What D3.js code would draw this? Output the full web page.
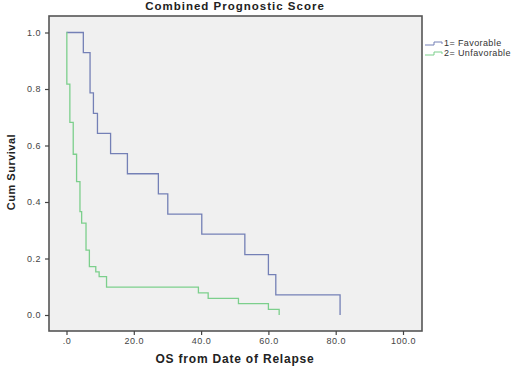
<!DOCTYPE html>
<html>
<head>
<meta charset="utf-8">
<script src="https://cdn.jsdelivr.net/npm/d3@7"></script>
<style>
  body { margin: 0; background: #fff; }
  svg { font-family: "Liberation Sans", Arial, sans-serif; }
</style>
</head>
<body>
<svg width="520" height="366"></svg>
<script>
// Kaplan-Meier steps: [time, survival after the event]
const favorable = [
  [0, 1.0], [5.0, 0.929], [7.0, 0.786], [8.0, 0.714], [9.2, 0.643],
  [13.1, 0.571], [18.1, 0.5], [27.3, 0.429], [30.1, 0.357], [40.2, 0.286],
  [53.0, 0.214], [60.0, 0.143], [62.2, 0.071], [81.3, 0.0]
];
const unfavorable = [
  [0, 1.0], [0.1, 0.817], [1.0, 0.682], [2.0, 0.569], [3.0, 0.472],
  [4.0, 0.366], [4.5, 0.325], [5.8, 0.23], [6.8, 0.171], [8.7, 0.153],
  [9.7, 0.136], [11.9, 0.099], [39.2, 0.078], [42.1, 0.059], [51.1, 0.04],
  [60.0, 0.02], [63.2, 0.0]
];
const seriesNames = ["1= Favorable", "2= Unfavorable"];
const seriesColors = ["#7480b6", "#7ccf8c"];
const xTicks = [0, 20, 40, 60, 80, 100];
const yTicks = [0, 0.2, 0.4, 0.6, 0.8, 1.0];

const svg = d3.select("svg");
const frame = { left: 49, right: 422, top: 16, bottom: 331 };

const x = d3.scaleLinear().domain([0, 100]).range([66.5, 403]);
const y = d3.scaleLinear().domain([0, 1]).range([315, 32.5]);

// plot background + frame
svg.append("rect")
   .attr("x", frame.left).attr("y", frame.top)
   .attr("width", frame.right - frame.left)
   .attr("height", frame.bottom - frame.top)
   .attr("fill", "#f0f0f0")
   .attr("stroke", "#555")
   .attr("stroke-width", 1.6);

// axes
const xAxis = svg.append("g")
   .attr("transform", `translate(0,${frame.bottom})`)
   .call(d3.axisBottom(x).tickValues(xTicks).tickSize(4).tickPadding(3)
          .tickFormat(d => d === 0 ? ".0" : d3.format(".1f")(d)));
const yAxis = svg.append("g")
   .attr("transform", `translate(${frame.left},0)`)
   .call(d3.axisLeft(y).tickValues(yTicks).tickSize(4).tickPadding(4)
          .tickFormat(d3.format(".1f")));
[xAxis, yAxis].forEach(g => {
  g.select(".domain").remove();
  g.selectAll(".tick line").attr("stroke", "#444").attr("stroke-width", 1.2);
  g.selectAll(".tick text").attr("fill", "#444")
   .style("font-size", "9px").style("letter-spacing", "0.5px")
   .style("font-family", "Liberation Sans, Arial, sans-serif");
});

// survival curves
const line = d3.line().x(d => x(d[0])).y(d => y(d[1])).curve(d3.curveStepAfter);
[favorable, unfavorable].forEach((s, i) => {
  svg.append("path")
     .datum(s)
     .attr("d", line)
     .attr("fill", "none")
     .attr("stroke", seriesColors[i])
     .attr("stroke-width", 1.3);
});

// legend
const legend = svg.append("g").attr("transform", "translate(425,43)");
seriesNames.forEach((name, i) => {
  const g = legend.append("g").attr("transform", `translate(0,${i * 10})`);
  g.append("path")
   .attr("d", "M0,2 H9 V-1 H17 V1")
   .attr("fill", "none")
   .attr("stroke", seriesColors[i])
   .attr("stroke-width", 1);
  g.append("text")
   .attr("x", 19).attr("y", 3)
   .style("font-size", "9px").style("letter-spacing", "0.4px")
   .attr("fill", "#333")
   .text(name);
});

// titles
svg.append("text")
   .attr("x", 235).attr("y", 10)
   .attr("text-anchor", "middle")
   .style("font-size", "11.5px").style("font-weight", "bold")
   .style("letter-spacing", "1px")
   .attr("fill", "#222")
   .text("Combined Prognostic Score");

svg.append("text")
   .attr("x", 235).attr("y", 363)
   .attr("text-anchor", "middle")
   .style("font-size", "12px").style("font-weight", "bold")
   .style("letter-spacing", "0.8px")
   .attr("fill", "#222")
   .text("OS from Date of Relapse");

svg.append("text")
   .attr("transform", "translate(15,172) rotate(-90)")
   .attr("text-anchor", "middle")
   .style("font-size", "11px").style("font-weight", "bold")
   .style("letter-spacing", "0.5px")
   .attr("fill", "#222")
   .text("Cum Survival");
</script>
</body>
</html>
